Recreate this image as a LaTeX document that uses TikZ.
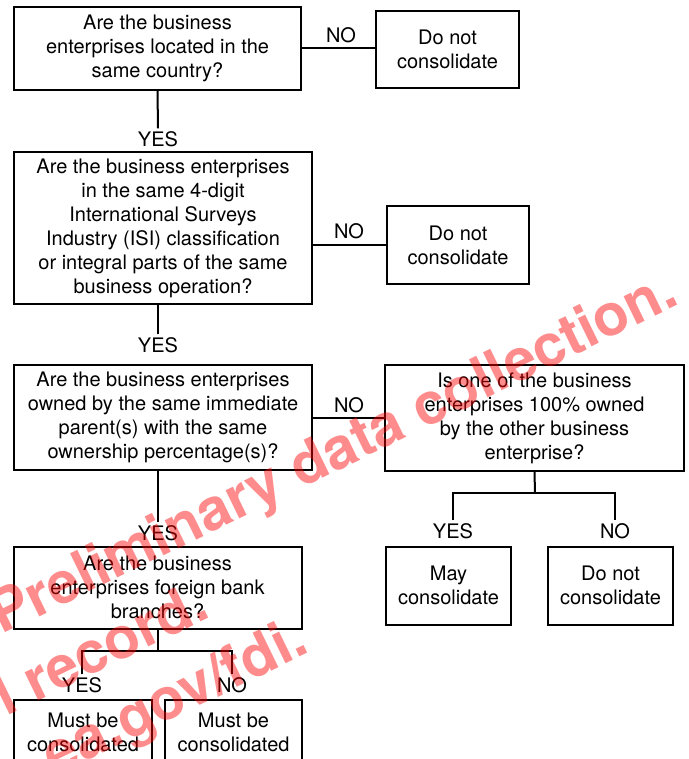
\documentclass[tikz,border=0pt]{standalone}
\usepackage{fontspec}
\setmainfont{TeX Gyre Heros}
\usetikzlibrary{calc}

\begin{document}
\begin{tikzpicture}[x=1pt,y=-1pt,line width=2pt,
  box/.style={draw,align=center,inner sep=2pt,font=\fontsize{20}{24}\selectfont},
  lbl/.style={inner sep=2pt,font=\fontsize{20}{24}\selectfont},
  wmark/.style={text=red,text opacity=0.45,rotate=26,inner sep=0pt,font=\bfseries\fontsize{58}{58}\selectfont}]
  \useasboundingbox (0,0) rectangle (688,759);
  \clip (0,0) rectangle (688,759);
  % questions
  \node[box,minimum width=287pt,minimum height=83pt] (q1) at (157.5,48.5) {Are the business\\enterprises located in the\\same country?};
  \node[box,minimum width=298pt,minimum height=152pt] (q2) at (163,228) {Are the business enterprises\\in the same 4-digit\\International Surveys\\Industry (ISI) classification\\or integral parts of the same\\business operation?};
  \node[box,minimum width=298pt,minimum height=105pt] (q3) at (163,417.5) {Are the business enterprises\\owned by the same immediate\\parent(s) with the same\\ownership percentage(s)?};
  \node[box,minimum width=299pt,minimum height=106pt] (q4) at (534.5,418) {Is one of the business\\enterprises 100\% owned\\by the other business\\enterprise?};
  \node[box,minimum width=288pt,minimum height=82pt] (q5) at (157.5,587.5) {Are the business\\enterprises foreign bank\\branches?};
  % answers
  \node[box,minimum width=143pt,minimum height=77pt] (n1) at (447.5,49.5) {Do not\\consolidate};
  \node[box,minimum width=142pt,minimum height=78pt] (n2) at (458,245) {Do not\\consolidate};
  \node[box,minimum width=125pt,minimum height=78pt] (m4) at (448.5,585.5) {May\\consolidate};
  \node[box,minimum width=125pt,minimum height=78pt] (n4) at (610.5,585.5) {Do not\\consolidate};
  \node[box,minimum width=138pt,minimum height=64pt] (m5) at (83,732) {Must be\\consolidated};
  \node[box,minimum width=137pt,minimum height=64pt] (n5) at (233.5,732) {Must be\\consolidated};
  % labels
  \node[lbl] (no1) at (341,35) {NO};
  \node[lbl] (yes1) at (158,139) {YES};
  \node[lbl] (no2) at (349,231) {NO};
  \node[lbl] (yes2) at (158,345) {YES};
  \node[lbl] (no3) at (349,405) {NO};
  \node[lbl] (yes3) at (158,533) {YES};
  \node[lbl] (yes4) at (453,531) {YES};
  \node[lbl] (no4) at (615,531) {NO};
  \node[lbl] (yes5) at (82,685) {YES};
  \node[lbl] (no5) at (232,685) {NO};
  \coordinate (b4) at (535,493);
  \coordinate (b5) at (157.5,651);
  % lines
  \draw (q1.east) -- (q1.east -| n1.west);
  \draw (n2.west) -- (n2.west -| q2.east);
  \draw (q3.east) -- (q3.east -| q4.west);
  \draw (q1.south) -- (yes1.north);
  \draw (yes2.north) -- (yes2.north |- q2.south);
  \draw (yes3.north) -- (yes3.north |- q3.south);
  \draw (q4.south) -- (b4);
  \draw (yes4.north) |- (b4) -| (no4.north);
  \draw (q5.south) -- (b5);
  \draw (yes5.north) |- (b5) -| (no5.north);
  % watermark
  \node[wmark,anchor=base east] (wm1) at (682,303) {Preliminary data collection.};
  \node[wmark,anchor=base east] (wm2) at (213,616) {l record.};
  \node[wmark,anchor=base east] (wm3) at (312,651) {ea.gov/fdi.};
\end{tikzpicture}
\end{document}
